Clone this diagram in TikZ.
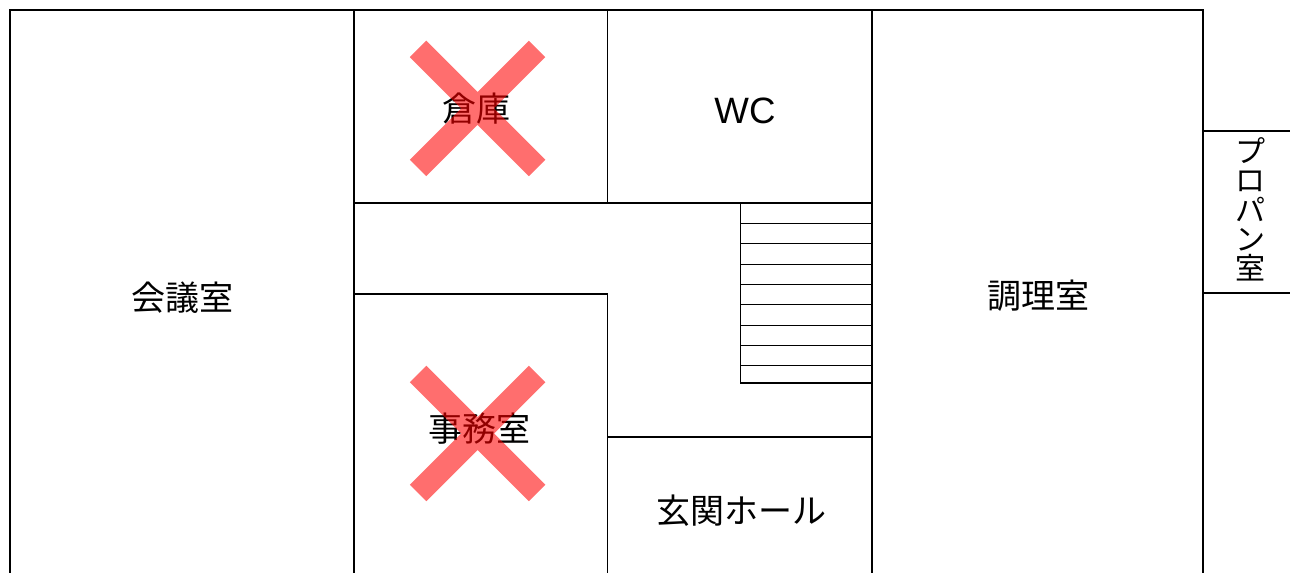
\documentclass[tikz,border=0pt]{standalone}
\usepackage{fontspec}
\setmainfont{Noto Sans CJK JP}
\newfontfamily\latinface{Liberation Sans}
\setlength{\lineskiplimit}{-50pt}
\setlength{\normallineskiplimit}{-50pt}
\tikzset{
  wall/.style={draw=black,line width=1.1pt,line cap=rect},
  heavywall/.style={draw=black,line width=1.45pt,line cap=rect},
  tread/.style={draw=black,line width=0.7pt},
  roomlabel/.style={font=\fontsize{25.5pt}{30pt}\selectfont,inner sep=0pt,text=black},
  wclabel/.style={font=\latinface\fontsize{27.5pt}{30pt}\selectfont,inner sep=0pt,text=black},
  vlabel/.style={font=\fontsize{22.5pt}{22pt}\selectfont,align=center,inner sep=0pt,text=black},
  crossarm/.style={draw=red,line width=17.5pt}
}
\begin{document}
\begin{tikzpicture}[x=0.75pt,y=-0.75pt]
\useasboundingbox (0,0) rectangle (1290,573);
\fill[white] (0,0) rectangle (1290,573);
% walls
\draw[wall] (10,573) -- (10,10) -- (872,10);
\draw[wall] (1203,10) -- (1203,573);
\draw[wall] (354,10) -- (354,573);
\draw[wall] (607.5,10) -- (607.5,203);
\draw[wall] (872,203) -- (872,573);
\draw[heavywall] (872,203) -- (872,10) -- (1203,10);
\draw[wall] (354,203) -- (872,203);
\draw[wall] (354,294) -- (607.5,294) -- (607.5,573);
\draw[wall] (607.5,437) -- (872,437);
\draw[wall] (1203,131) -- (1290,131);
\draw[wall] (1203,293) -- (1290,293);
% stairs
\draw[heavywall] (740.5,203) -- (740.5,383) -- (872.5,383);
\foreach \y in {223.5,243.5,264.5,284.5,304.5,325,345.5,365.5}
  \draw[tread] (740.5,\y) -- (872.5,\y);
% labels
\node[roomlabel] (kaigi) at (182,298) {会議室};
\node[roomlabel] (souko) at (476,109) {倉庫};
\node[wclabel] (wc) at (745,111) {WC};
\node[roomlabel] (jimu) at (479,429) {事務室};
\node[roomlabel] (chouri) at (1038,296) {調理室};
\node[roomlabel] (genkan) at (741,511) {玄関ホール};
\node[vlabel] (propane) at (1250,209.5) {プ\\ロ\\パ\\ン\\室};
% crosses
\begin{scope}[transparency group,opacity=0.57]
\draw[crossarm] (418,49) -- (537,168) (537,49) -- (418,168);
\end{scope}
\begin{scope}[transparency group,opacity=0.57]
\draw[crossarm] (418,374) -- (537,493) (537,374) -- (418,493);
\end{scope}
\end{tikzpicture}
\end{document}
